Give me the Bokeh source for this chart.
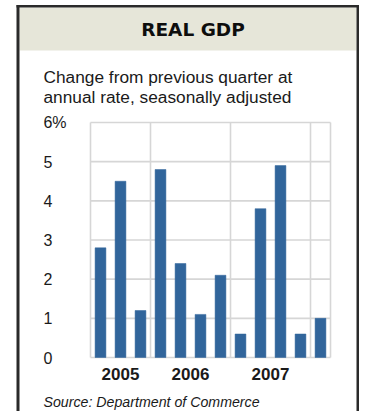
from bokeh.plotting import figure
from bokeh.models import (Range1d, FixedTicker, BoxAnnotation, Label, ColumnDataSource,
                          LinearAxis)
from bokeh.embed import file_html
from bokeh.resources import INLINE

# ---- data ----
quarters = ["2005 Q2", "2005 Q3", "2005 Q4", "2006 Q1", "2006 Q2", "2006 Q3",
            "2006 Q4", "2007 Q1", "2007 Q2", "2007 Q3", "2007 Q4", "2008 Q1"]
gdp_change = [2.8, 4.5, 1.2, 4.8, 2.4, 1.1, 2.1, 0.6, 3.8, 4.9, 0.6, 1.0]
year_labels = ["2005", "2006", "2007"]
y_ticks = [0, 1, 2, 3, 4, 5, 6]
y_tick_labels = ["0", "1", "2", "3", "4", "5", "6%"]

title_text = "REAL GDP"
subtitle_lines = ["Change from previous quarter at", "annual rate, seasonally adjusted"]
source_text = "Source: Department of Commerce"

# ---- derived (data-space) positions ----
n = len(quarters)
x_pos = [i + 0.5 for i in range(n)]
years = [q.split()[0] for q in quarters]
year_centers = []
for y in year_labels:
    xs = [x for x, yy in zip(x_pos, years) if yy == y]
    year_centers.append(sum(xs) / len(xs))
year_bounds = [i for i in range(1, n) if years[i] != years[i - 1]]
v_lines = [0] + year_bounds + [n]
y_max = y_ticks[-1]

# ---- canvas geometry (the frame fills the whole canvas) ----
W, H = 359, 411
PLOT_L, PLOT_R, PLOT_T, PLOT_B = 90, 330, 122, 357
sx = (PLOT_R - PLOT_L) / n
sy = (PLOT_B - PLOT_T) / y_max
x_range = Range1d(-PLOT_L / sx, (W - PLOT_L) / sx)
y_range = Range1d(-(H - PLOT_B) / sy, PLOT_B / sy)

p = figure(width=W, height=H, x_range=x_range, y_range=y_range,
           output_backend="svg", toolbar_location=None,
           x_axis_location=None, y_axis_location=None,
           min_border=0)
p.min_border_left = p.min_border_right = p.min_border_top = p.min_border_bottom = 0
p.outline_line_color = None
p.background_fill_color = "white"
p.border_fill_color = "white"
p.grid.visible = False

GRID = "#d6d6d6"
p.segment(x0=[0] * len(y_ticks), x1=[n] * len(y_ticks), y0=y_ticks, y1=y_ticks,
          line_color=GRID, line_width=1.6)
p.segment(x0=v_lines, x1=v_lines, y0=[0] * len(v_lines), y1=[y_max] * len(v_lines),
          line_color=GRID, line_width=1.6)

src = ColumnDataSource(dict(x=x_pos, top=gdp_change, q=quarters))
p.vbar(x="x", top="top", bottom=0, width=0.54, source=src,
       fill_color="#31659b", line_color="#31659b", line_width=0.5)

def style_axis(ax):
    ax.axis_line_color = None
    ax.major_tick_line_color = None
    ax.minor_tick_line_color = None
    ax.major_tick_out = 0
    ax.major_tick_in = 0
    ax.minor_tick_out = 0
    ax.minor_tick_in = 0
    ax.major_label_text_color = "#1a1a1a"
    ax.major_label_text_font = "Liberation Sans"

num_ticks = [t for t, l in zip(y_ticks, y_tick_labels) if not l.endswith("%")]
pct_ticks = [t for t, l in zip(y_ticks, y_tick_labels) if l.endswith("%")]
labels_map = {t: l for t, l in zip(y_ticks, y_tick_labels)}
ya = LinearAxis(fixed_location=0, ticker=FixedTicker(ticks=num_ticks),
                major_label_overrides={t: labels_map[t] for t in num_ticks})
style_axis(ya)
ya.major_label_text_font_size = "16px"
ya.major_label_standoff = 38
p.add_layout(ya, "left")
ya2 = LinearAxis(fixed_location=0, ticker=FixedTicker(ticks=pct_ticks),
                 major_label_overrides={t: labels_map[t] for t in pct_ticks})
style_axis(ya2)
ya2.major_label_text_font_size = "16px"
ya2.major_label_standoff = 24
p.add_layout(ya2, "left")

xa = LinearAxis(fixed_location=0, ticker=FixedTicker(ticks=year_centers),
                major_label_overrides={c: l for c, l in zip(year_centers, year_labels)})
style_axis(xa)
xa.major_label_text_font_style = "bold"
xa.major_label_text_font_size = "17px"
xa.major_label_standoff = 10
p.add_layout(xa, "below")

# ---- panel frame: header band and dark border (screen units = canvas px, y up) ----
def box(l, r, t, b, color):
    p.add_layout(BoxAnnotation(left=l, right=r, top=H - t, bottom=H - b,
                               left_units="screen", right_units="screen",
                               top_units="screen", bottom_units="screen",
                               fill_color=color, fill_alpha=1, line_color=None,
                               level="underlay"))

BORDER = "#2a2a2a"
box(19, 356, 7, 50, "#e6e6d9")      # header band
box(16, 19, 4.5, H, BORDER)        # left edge
box(356, 359, 4.5, H, BORDER)      # right edge
box(16, 359, 4.5, 7, BORDER)       # top edge

def label(txt, x, y, size, style="normal", font="Liberation Sans", align="left",
          color="#1a1a1a"):
    p.add_layout(Label(x=x, y=H - y, x_units="screen", y_units="screen", text=txt,
                       text_font=font, text_font_style=style, text_font_size=size,
                       text_align=align, text_baseline="alphabetic", text_color=color))

label(title_text, 192.5, 28.5, "18.5px", style="bold", font="DejaVu Sans",
      align="center", color="#0d0d0d")
for txt, base in zip(subtitle_lines, [76, 96.5]):
    label(txt, 43, base, "17.3px")
label(source_text, 43, 401, "14.2px", style="italic")

open("out.html", "w").write(file_html(p, INLINE))
